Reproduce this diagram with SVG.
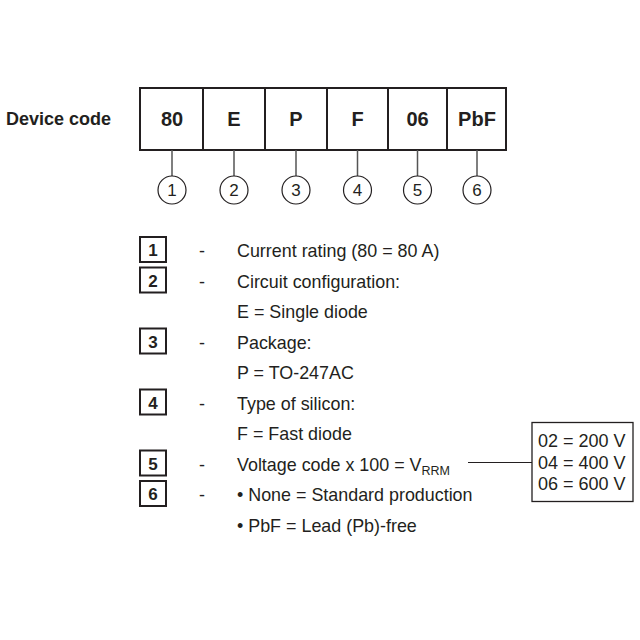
<svg xmlns="http://www.w3.org/2000/svg" width="640" height="640" viewBox="0 0 640 640">
<style>
text{font-family:"Liberation Sans",Arial,sans-serif;fill:#231f20}
.b{font-weight:bold}
.cell{font-size:20px;font-weight:bold;text-anchor:middle}
.num{font-size:17px;text-anchor:middle}
.lg{font-size:17.9px}
.ix{font-size:17px;font-weight:bold;text-anchor:middle}
.box{fill:none;stroke:#231f20;stroke-width:2}
.circ{fill:#fff;stroke:#231f20;stroke-width:1.2}
.ln{stroke:#555;stroke-width:1.5;fill:none}
</style>
<rect width="640" height="640" fill="#fff"/>
<text x="6" y="125" class="b" font-size="18">Device code</text>
<g id="code">
<rect x="140" y="88" width="366" height="62" class="box"/>
<path d="M203,88V150M265,88V150M327,88V150M388,88V150M447,88V150" class="box"/>
<text x="172" y="126" class="cell">80</text>
<text x="234" y="126" class="cell">E</text>
<text x="296" y="126" class="cell">P</text>
<text x="357.5" y="126" class="cell">F</text>
<text x="417.5" y="126" class="cell">06</text>
<text x="477" y="126" class="cell">PbF</text>
</g>
<g id="connectors">
<path d="M172,150V176M234,150V176M296,150V176M357.5,150V176M417.5,150V176M477,150V176" class="ln"/>
<path d="M468,462.5H532" stroke="#231f20" stroke-width="1.2"/>
</g>
<g id="n1"><circle cx="172" cy="190" r="14" class="circ"/><text x="172" y="196" class="num">1</text></g>
<g id="n2"><circle cx="234" cy="190" r="14" class="circ"/><text x="234" y="196" class="num">2</text></g>
<g id="n3"><circle cx="296" cy="190" r="14" class="circ"/><text x="296" y="196" class="num">3</text></g>
<g id="n4"><circle cx="357.5" cy="190" r="14" class="circ"/><text x="357.5" y="196" class="num">4</text></g>
<g id="n5"><circle cx="417.5" cy="190" r="14" class="circ"/><text x="417.5" y="196" class="num">5</text></g>
<g id="n6"><circle cx="477" cy="190" r="14" class="circ"/><text x="477" y="196" class="num">6</text></g>
<g id="legend">
<g id="l1"><rect x="140" y="237" width="26" height="25" class="box"/><text x="153" y="256" class="ix">1</text><text x="202" y="257" class="lg" text-anchor="middle">-</text><text x="237" y="257" class="lg">Current rating (80 = 80 A)</text></g>
<g id="l2"><rect x="140" y="267.5" width="26" height="25" class="box"/><text x="153" y="286.5" class="ix">2</text><text x="202" y="287.5" class="lg" text-anchor="middle">-</text><text x="237" y="287.5" class="lg">Circuit configuration:</text><text x="237" y="318" class="lg">E = Single diode</text></g>
<g id="l3"><rect x="140" y="328.5" width="26" height="25" class="box"/><text x="153" y="347.5" class="ix">3</text><text x="202" y="348.5" class="lg" text-anchor="middle">-</text><text x="237" y="348.5" class="lg">Package:</text><text x="237" y="379" class="lg">P = TO-247AC</text></g>
<g id="l4"><rect x="140" y="389.5" width="26" height="25" class="box"/><text x="153" y="408.5" class="ix">4</text><text x="202" y="409.5" class="lg" text-anchor="middle">-</text><text x="237" y="409.5" class="lg">Type of silicon:</text><text x="237" y="440" class="lg">F = Fast diode</text></g>
<g id="l5"><rect x="140" y="450.5" width="26" height="25" class="box"/><text x="153" y="469.5" class="ix">5</text><text x="202" y="470.5" class="lg" text-anchor="middle">-</text><text x="237" y="470.5" class="lg">Voltage code x 100 = V<tspan font-size="12.5" dy="4">RRM</tspan></text></g>
<g id="l6"><rect x="140" y="481" width="26" height="25" class="box"/><text x="153" y="500" class="ix">6</text><text x="202" y="501" class="lg" text-anchor="middle">-</text><text x="237" y="501" class="lg">• None = Standard production</text><text x="237" y="531.5" class="lg">• PbF = Lead (Pb)-free</text></g>
</g>
<g id="vbox">
<rect x="532" y="422.5" width="101" height="79" fill="none" stroke="#231f20" stroke-width="1.3"/>
<text x="538" y="447" font-size="18">02 = 200 V</text>
<text x="538" y="468.5" font-size="18">04 = 400 V</text>
<text x="538" y="490" font-size="18">06 = 600 V</text>
</g>
</svg>
